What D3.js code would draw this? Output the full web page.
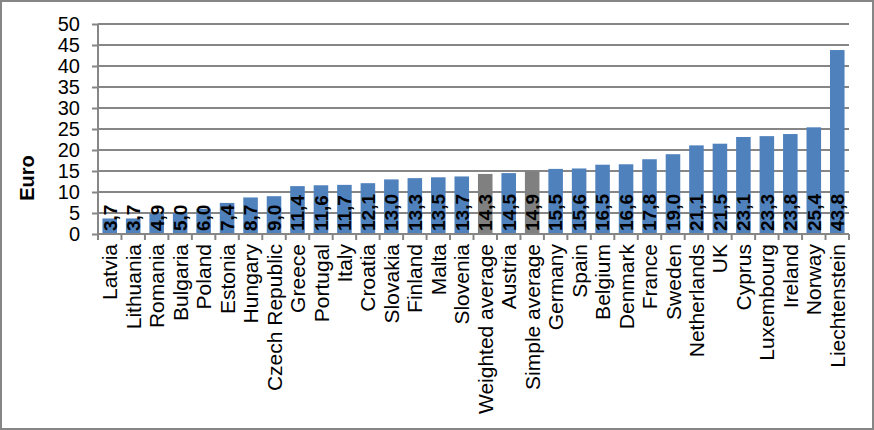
<!DOCTYPE html>
<html>
<head>
<meta charset="utf-8">
<script src="https://cdn.jsdelivr.net/npm/d3@7"></script>
<style>
  body { margin: 0; background: #fff; }
  svg { display: block; font-family: Arial, "Liberation Sans", sans-serif; }
</style>
</head>
<body>
<svg id="chart" width="874" height="430"></svg>
<script>
const categories = ["Latvia", "Lithuania", "Romania", "Bulgaria", "Poland", "Estonia", "Hungary",
  "Czech Republic", "Greece", "Portugal", "Italy", "Croatia", "Slovakia", "Finland", "Malta",
  "Slovenia", "Weighted average", "Austria", "Simple average", "Germany", "Spain", "Belgium",
  "Denmark", "France", "Sweden", "Netherlands", "UK", "Cyprus", "Luxembourg", "Ireland",
  "Norway", "Liechtenstein"];
const values = [3.7, 3.7, 4.9, 5.0, 6.0, 7.4, 8.7, 9.0, 11.4, 11.6, 11.7, 12.1, 13.0, 13.3, 13.5,
  13.7, 14.3, 14.5, 14.9, 15.5, 15.6, 16.5, 16.6, 17.8, 19.0, 21.1, 21.5, 23.1, 23.3, 23.8,
  25.4, 43.8];
const averages = ["Weighted average", "Simple average"];
const yTicks = [0, 5, 10, 15, 20, 25, 30, 35, 40, 45, 50];

const data = categories.map((c, i) => ({ name: c, value: values[i] }));

const W = 874, H = 430;
const margin = { top: 24, right: 25, bottom: 196, left: 98 };
const width = W - margin.left - margin.right;
const height = H - margin.top - margin.bottom;
const grey = "#868686";

const svg = d3.select("#chart");

// outer border
svg.append("rect")
  .attr("x", 1).attr("y", 1)
  .attr("width", W - 2).attr("height", H - 2)
  .attr("fill", "#fff").attr("stroke", grey).attr("stroke-width", 2);

const g = svg.append("g").attr("transform", `translate(${margin.left},${margin.top})`);

const x = d3.scaleBand().domain(categories).range([0, width]).paddingInner(0.38).paddingOuter(0.19);
const y = d3.scaleLinear().domain([0, 50]).range([height, 0]);

// gridlines
g.append("g")
  .selectAll("line")
  .data(yTicks.filter(t => t > 0))
  .join("line")
  .attr("x1", 0).attr("x2", width)
  .attr("y1", d => y(d)).attr("y2", d => y(d))
  .attr("stroke", grey).attr("stroke-width", 2);

// y axis
const yAxis = g.append("g")
  .call(d3.axisLeft(y).tickValues(yTicks).tickSize(6).tickPadding(12).tickFormat(d3.format("d")));
yAxis.select(".domain").attr("stroke", grey).attr("stroke-width", 2).attr("d", `M0,${height}V0`);
yAxis.selectAll(".tick line").attr("stroke", grey).attr("stroke-width", 2);
yAxis.selectAll(".tick text").attr("font-size", 20).attr("fill", "#000").attr("dy", "0.34em");

// bars
g.append("g")
  .selectAll("rect")
  .data(data)
  .join("rect")
  .attr("x", d => x(d.name))
  .attr("y", d => y(d.value))
  .attr("width", x.bandwidth())
  .attr("height", d => y(0) - y(d.value))
  .attr("fill", d => averages.includes(d.name) ? "#808080" : "#4f81bd");

// x axis with boundary ticks
const step = x.step();
const xg = g.append("g").attr("transform", `translate(0,${height})`);
xg.append("line")
  .attr("x1", 0).attr("x2", width)
  .attr("stroke", grey).attr("stroke-width", 2);
xg.selectAll(".bt")
  .data(d3.range(categories.length + 1))
  .join("line")
  .attr("class", "bt")
  .attr("x1", i => i * step).attr("x2", i => i * step)
  .attr("y1", 0).attr("y2", 6)
  .attr("stroke", grey).attr("stroke-width", 2);

xg.selectAll(".lbl")
  .data(categories)
  .join("text")
  .attr("class", "lbl")
  .attr("transform", d => `translate(${x(d) + x.bandwidth() / 2},10) rotate(-90)`)
  .attr("text-anchor", "end")
  .attr("dy", "0.36em")
  .attr("font-size", 21)
  .attr("fill", "#000")
  .text(d => d);

// value labels inside base
const fmt = v => d3.format(".1f")(v).replace(".", ",");
g.append("g")
  .selectAll("text")
  .data(data)
  .join("text")
  .attr("transform", d => `translate(${x(d.name) + x.bandwidth() / 2},${y(0) - 3}) rotate(-90)`)
  .attr("text-anchor", "start")
  .attr("dy", "0.36em")
  .attr("font-size", 19)
  .attr("font-weight", "bold")
  .attr("fill", "#000")
  .text(d => fmt(d.value));

// y axis title
svg.append("text")
  .attr("transform", "translate(27,178) rotate(-90)")
  .attr("text-anchor", "middle")
  .attr("dy", "0.36em")
  .attr("font-size", 20)
  .attr("font-weight", "bold")
  .text("Euro");
</script>
</body>
</html>
